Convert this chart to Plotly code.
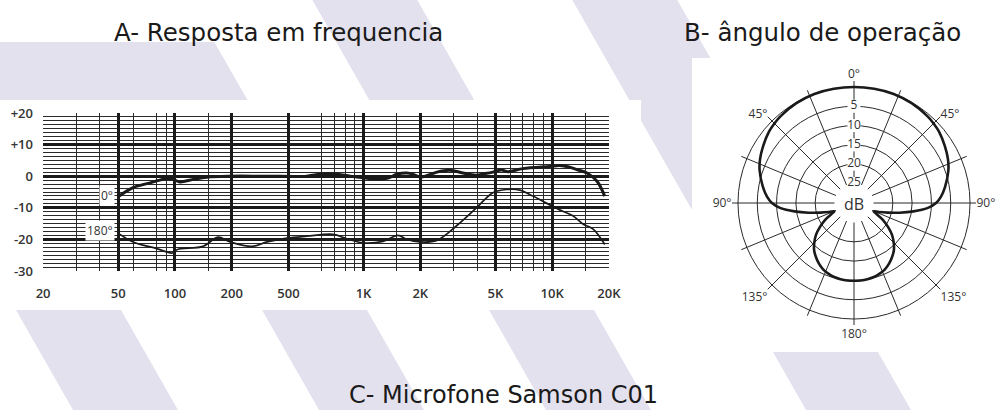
import numpy as np
import plotly.graph_objects as go

# ---------------- data ----------------
# Frequency response, 0 degrees (Hz, dB)
freq_0 = [50, 60, 74, 91, 98, 106, 125, 148, 196, 300, 500, 560, 640, 730, 850, 1000,
          1200, 1350, 1500, 1700, 1850, 2000, 2200, 2450, 2870, 3360, 3940, 4400, 4850,
          5400, 5800, 7000, 9700, 11000, 12300, 13500, 15300, 17300, 19000]
resp_0 = [-6.5, -3.6, -2.1, -0.7, -1.0, -1.8, -1.0, -0.3, 0.0, 0.0, 0.0, 0.5, 0.8, 0.6, 0.0, -0.5,
          -0.9, -0.6, 0.6, 1.0, 0.5, -0.3, 0.3, 1.3, 1.9, 1.0, 0.3, 0.8, 1.3,
          2.0, 1.4, 2.4, 3.1, 3.4, 2.9, 2.1, 1.0, -1.6, -6.3]

# Frequency response, 180 degrees (Hz, dB)
freq_180 = [50, 60, 80, 97, 103, 141, 169, 196, 256, 308, 393, 500, 689, 817, 993, 1268,
            1522, 1698, 1990, 2449, 3126, 3990, 4850, 5754, 6746, 7908, 9376, 11400,
            12880, 14556, 16444, 19020]
resp_180 = [-18.0, -20.8, -22.9, -24.3, -23.2, -22.2, -19.3, -20.8, -22.2, -20.8, -19.6, -19.0,
            -18.4, -19.8, -21.1, -20.6, -18.7, -20.0, -20.8, -20.3, -15.6, -9.9, -5.2, -4.2,
            -4.4, -6.3, -8.6, -11.1, -12.5, -15.1, -16.7, -21.6]

# Axis ticks of the frequency chart
freq_major_lines = [50, 100, 200, 400, 1000, 2000, 5000, 10000]
freq_minor_lines = [30, 40, 60, 80, 90, 150, 600, 700, 800, 900, 1500, 3000, 4000,
                    6000, 7000, 8000, 9000, 15000]
freq_label_vals = [20, 50, 100, 200, 400, 1000, 2000, 5000, 10000, 20000]
freq_label_text = ["20", "50", "100", "200", "500", "1K", "2K", "5K", "10K", "20K"]
db_major_lines = [-20, -10, 0, 10]
db_label_vals = [20, 10, 0, -10, -20, -30]
db_label_text = ["+20", "+10", "0", "-10", "-20", "-30"]

# Polar pattern (angle in degrees, attenuation in dB), right half; mirrored
polar_angle = [0, 10, 20, 30, 40, 45, 50, 58, 65, 71, 80, 86, 90, 94, 98, 102, 106, 110, 113,
               115, 120, 125, 130, 135, 140, 145, 150, 155, 160, 165, 170, 175, 180]
polar_att = [0.0, 0.0, 0.0, 0.2, 0.6, 0.9, 1.3, 2.3, 3.2, 4.2, 6.1, 7.5, 8.8, 11.0, 14.5, 18.0,
             21.0, 23.2, 24.5, 24.0, 21.5, 19.3, 17.2, 15.5, 14.0, 12.9, 11.9, 11.1, 10.6,
             10.2, 10.0, 9.9, 9.9]
ring_att = [5, 10, 15, 20, 25]
ring_text = ["5", "10", "15", "20", "25"]
spoke_angles = [i * 22.5 for i in range(16)]
spoke_text = ["0°", "", "45°", "", "90°", "", "135°", "", "180°", "", "135°", "", "90°", "", "45°", ""]

# ---------------- layout helpers ----------------
W, H = 1002, 410
def px(x):
    return x / W
def py(y):
    return 1 - y / H

LAV = "rgb(228,225,238)"
INK = "#1a1a1a"
GRID = "#2a2a2a"
TXT = "#333333"

fig = go.Figure()

# frequency curves
fig.add_trace(go.Scatter(x=freq_0, y=resp_0, mode="lines", line=dict(color=INK, width=3),
                         line_shape="spline", hoverinfo="skip", showlegend=False,
                         xaxis="x", yaxis="y"))
fig.add_trace(go.Scatter(x=freq_180, y=resp_180, mode="lines", line=dict(color=INK, width=1.7),
                         line_shape="spline", hoverinfo="skip", showlegend=False,
                         xaxis="x", yaxis="y"))
# invisible companion trace so that the label axes (x2 / y2) are drawn
fig.add_trace(go.Scatter(x=freq_180, y=resp_180, mode="lines", line=dict(width=0),
                         opacity=0, hoverinfo="skip", showlegend=False,
                         xaxis="x2", yaxis="y2"))

# polar curve (mirrored)
theta_full = polar_angle + [360 - a for a in reversed(polar_angle[:-1])]
att_full = polar_att + list(reversed(polar_att[:-1]))
fig.add_trace(go.Scatterpolar(r=[30 - a for a in att_full], theta=theta_full, mode="lines",
                              line=dict(color=INK, width=2.6, shape="spline"),
                              hoverinfo="skip", showlegend=False))
fig.add_trace(go.Scatterpolar(r=[30 - a for a in ring_att], theta=[0] * len(ring_att),
                              mode="markers+text", text=ring_text,
                              marker=dict(symbol="square", size=13, color="white"),
                              textfont=dict(family="Open Sans", size=12, color=TXT),
                              textposition="middle center", hoverinfo="skip", showlegend=False))

# background stripes
shapes = []
slope = 0.57
stripe_w = 105
stripe_left_at310 = [16, 262, 489, 749]
stripe_top = [0, 42, 0, 0]
for L, top in zip(stripe_left_at310, stripe_top):
    xl_t = L + slope * (top - 310)
    xl_b = L + slope * (410 - 310)
    path = (f"M {px(xl_t)} {py(top)} L {px(xl_t + stripe_w)} {py(top)} "
            f"L {px(xl_b + stripe_w)} {py(410)} L {px(xl_b)} {py(410)} Z")
    shapes.append(dict(type="path", path=path, xref="paper", yref="paper",
                       fillcolor=LAV, line=dict(width=0), layer="below"))
# top-left lavender block
shapes.append(dict(type="path",
                   path=f"M 0 {py(42)} L {px(214)} {py(42)} L {px(248)} {py(101)} L 0 {py(101)} Z",
                   xref="paper", yref="paper", fillcolor=LAV, line=dict(width=0), layer="below"))
# white panels
shapes.append(dict(type="rect", x0=0, x1=px(641), y0=py(310), y1=py(100), xref="paper",
                   yref="paper", fillcolor="white", line=dict(width=0), layer="below"))
shapes.append(dict(type="rect", x0=px(692), x1=1, y0=py(352), y1=py(58), xref="paper",
                   yref="paper", fillcolor="white", line=dict(width=0), layer="below"))

xr = [np.log10(20) - 0.0005, np.log10(20000) + 0.0005]
tickfont = dict(family="Open Sans", size=13, color=TXT, weight=600)

def note(text, x, y, size, family="DejaVu Sans", color=INK, **kw):
    return dict(text=text, x=x, y=y, xref=kw.pop("xref", "paper"), yref=kw.pop("yref", "paper"),
                xanchor=kw.pop("xanchor", "center"), yanchor="middle", showarrow=False,
                font=dict(family=family, size=size, color=color), **kw)

annotations = [
    note("A- Resposta em frequencia", px(278), py(33), 24.5),
    note("B- ângulo de operação", px(822), py(33), 24.5),
    note("C- Microfone Samson C01", px(504), py(395), 24),
    note("0°", np.log10(48), -6.2, 12, family="Open Sans", color=TXT, xref="x", yref="y",
         xanchor="right", bgcolor="white", borderpad=1),
    note("180°", np.log10(48), -17.3, 12, family="Open Sans", color=TXT, xref="x", yref="y",
         xanchor="right", bgcolor="white", borderpad=1),
    note("dB", px(854), py(204), 16, family="Open Sans", color=TXT),
]

fig.update_layout(
    template="none",
    width=W, height=H, autosize=False,
    margin=dict(l=0, r=0, t=0, b=0, pad=0),
    paper_bgcolor="white", plot_bgcolor="rgba(0,0,0,0)",
    shapes=shapes, annotations=annotations, showlegend=False,
    xaxis=dict(type="log", range=xr, domain=[px(43), px(609)], anchor="y",
               tickmode="array", tickvals=freq_major_lines, showticklabels=False,
               showgrid=True, gridcolor=INK, gridwidth=2.6, ticks="", zeroline=False,
               showline=False, fixedrange=True,
               minor=dict(tickmode="array", tickvals=freq_minor_lines, showgrid=True,
                          gridcolor=GRID, gridwidth=1, ticks="")),
    xaxis2=dict(type="log", range=xr, overlaying="x", anchor="y", side="bottom",
                tickmode="array", tickvals=freq_label_vals, ticktext=freq_label_text,
                showgrid=False, ticks="", tickfont=tickfont, ticklabelstandoff=13,
                zeroline=False, showline=False, showticklabels=True),
    yaxis=dict(range=[-30, 20], domain=[py(271), py(113)], anchor="x",
               tickmode="array", tickvals=db_major_lines, showticklabels=False,
               showgrid=True, gridcolor=INK, gridwidth=2.6, ticks="", zeroline=False,
               showline=False,
               minor=dict(tick0=-30, dtick=1.25, showgrid=True, gridcolor=GRID,
                          gridwidth=1, ticks="")),
    yaxis2=dict(range=[-30, 20], overlaying="y", anchor="x", side="left",
                tickmode="array", tickvals=db_label_vals, ticktext=db_label_text,
                showgrid=False, ticks="", tickfont=tickfont, ticklabelstandoff=9,
                zeroline=False, showline=False, showticklabels=True),
    polar=dict(
        domain=dict(x=[px(732), px(976)], y=[py(325), py(81)]),
        hole=0.16, bgcolor="rgba(0,0,0,0)",
        angularaxis=dict(rotation=90, direction="clockwise", tickmode="array",
                         tickvals=spoke_angles, ticktext=spoke_text, showgrid=True,
                         gridcolor=GRID, gridwidth=1.2, showline=False, ticks="",
                         tickfont=dict(family="Open Sans", size=12, color=TXT)),
        radialaxis=dict(range=[5, 31.55], tickmode="array", tickvals=[5, 10, 15, 20, 25, 30],
                        showticklabels=False, showgrid=True, gridcolor=GRID, gridwidth=1.2,
                        showline=False, ticks=""),
    ),
)

fig.write_html("out.html", config={"displayModeBar": False},
               post_script="document.body.style.margin='0';document.body.style.overflow='hidden';")
